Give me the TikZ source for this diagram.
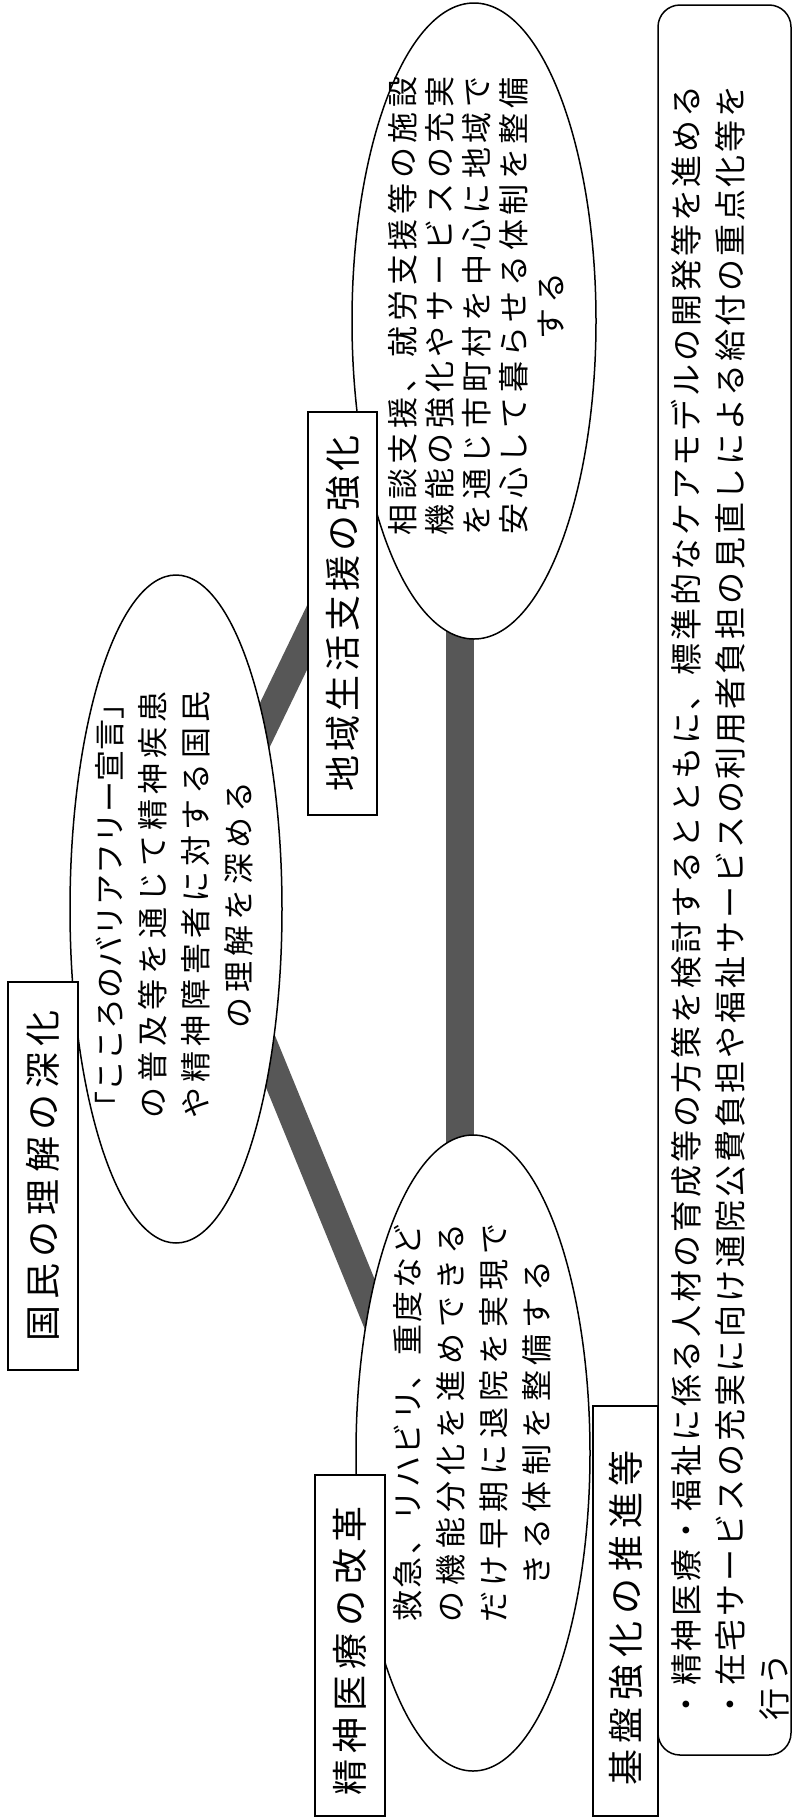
\documentclass[tikz,border=0pt]{standalone}
\usepackage{fontspec}
\newfontfamily\jp{Noto Sans CJK JP}
\usetikzlibrary{shapes.geometric,backgrounds}
\newcommand\lsp[2]{{\addfontfeature{LetterSpace=#1}#2}}
\begin{document}
\begin{tikzpicture}[x=1pt,y=-1pt,
  band/.style={line width=28pt, draw=black!66},
  oval/.style={ellipse, draw, line width=1.5pt, fill=white, inner sep=0pt},
  frame/.style={rectangle, draw, line width=1.5pt, fill=white, inner sep=0pt},
  boxtext/.style={rotate=90, inner sep=0pt, font=\jp\fontsize{36}{40}\selectfont},
  ovaltext/.style={rotate=90, inner sep=0pt, align=center},
]
\useasboundingbox (0,0) rectangle (793,1818);
% ellipses
\node[oval, minimum width=212pt, minimum height=668pt] (B) at (176,909) {};
\node[oval, minimum width=244pt, minimum height=636pt] (D) at (474,321) {};
\node[oval, minimum width=234pt, minimum height=636pt] (F) at (473,1453) {};
% boxes
\node[frame, minimum width=70pt, minimum height=388pt] (A) at (43,1176) {};
\node[frame, minimum width=69pt, minimum height=403pt] (C) at (342.5,613.5) {};
\node[frame, minimum width=70pt, minimum height=341pt] (E) at (350,1645.5) {};
\node[frame, minimum width=65pt, minimum height=410pt] (G) at (625.5,1611) {};
\node[frame, rounded corners=22pt, minimum width=133pt, minimum height=1750pt] (H) at (724.5,880) {};
% box titles
\node[boxtext] (At) at (A.center) {\lsp{17}{国民の理解の深化}};
\node[boxtext] (Ct) at (C.center) {\lsp{11}{地域生活支援の強化}};
\node[boxtext] (Et) at (350,1651) {\lsp{17}{精神医療の改革}};
\node[boxtext] (Gt) at (625.5,1618) {\lsp{19}{基盤強化の推進等}};
% ellipse texts
\node[ovaltext, font=\jp\fontsize{31}{43}\selectfont] (Bt) at (174,905)
  {\lsp{0}{「こころのバリアフリー宣言」}\\\lsp{16}{の普及等を通じて精神疾患}\\\lsp{16}{や精神障害者に対する国民}\\\lsp{16}{の理解を深める}};
\node[ovaltext, font=\jp\fontsize{31}{37}\selectfont] (Dt) at (476,306)
  {\lsp{15}{相談支援、就労支援等の施設}\\\lsp{15}{機能の強化やサービスの充実}\\\lsp{15}{を通じ市町村を中心に地域で}\\\lsp{15}{安心して暮らせる体制を整備}\\\lsp{15}{する}};
\node[ovaltext, font=\jp\fontsize{31}{43}\selectfont] (Ft) at (472,1423)
  {\lsp{8}{救急、リハビリ、重度など}\\\lsp{19}{の機能分化を進めできる}\\\lsp{19}{だけ早期に退院を実現で}\\\lsp{19}{きる体制を整備する}};
% bottom box text
\node[rotate=90, inner sep=0pt, anchor=west, align=left, font=\jp\fontsize{32}{44}\selectfont] (Ht) at (730,1721)
  {\lsp{9}{・精神医療・福祉に係る人材の育成等の方策を検討するとともに、標準的なケアモデルの開発等を進める}\\\lsp{9}{・在宅サービスの充実に向け通院公費負担や福祉サービスの利用者負担の見直しによる給付の重点化等を}\\\lsp{9}{行う}};
% band ends
\coordinate (c1) at (330,590);
\coordinate (b2a) at (240,987);
\coordinate (b2b) at (404,1388);
\coordinate (d3a) at (460,600);
\coordinate (d3b) at (460,1180);
\begin{scope}[on background layer]
  \fill[white] (0,0) rectangle (793,1818);
  \draw[band] (B.center) -- (c1);
  \draw[band] (b2a) -- (b2b);
  \draw[band] (d3a) -- (d3b);
\end{scope}
\end{tikzpicture}
\end{document}
